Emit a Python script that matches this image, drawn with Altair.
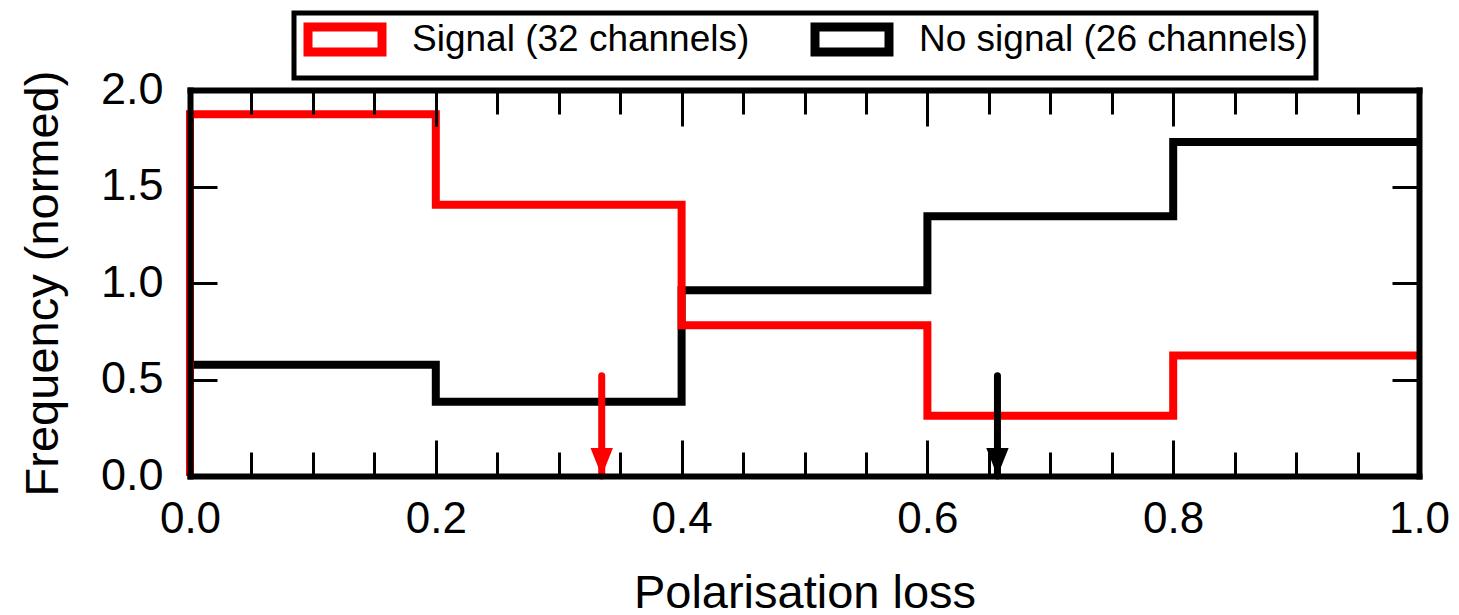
import altair as alt
import pandas as pd

# ---- data ----
bin_edges = [0.0, 0.2, 0.4, 0.6, 0.8, 1.0]
signal_heights = [1.875, 1.406, 0.781, 0.312, 0.625]
nosignal_heights = [0.577, 0.385, 0.962, 1.346, 1.731]
series_names = ["Signal (32 channels)", "No signal (26 channels)"]
series_colors = ["#ff0000", "#000000"]

arrow_x = [0.335, 0.657]
arrow_top = [0.52, 0.52]
arrow_tip = [0.0, 0.0]
arrow_colors = ["#ff0000", "#000000"]

x_major = [0.0, 0.2, 0.4, 0.6, 0.8, 1.0]
x_minor = [0.0, 0.05, 0.1, 0.15, 0.2, 0.25, 0.3, 0.35, 0.4, 0.45, 0.5,
           0.55, 0.6, 0.65, 0.7, 0.75, 0.8, 0.85, 0.9, 0.95, 1.0]
y_major = [0.0, 0.5, 1.0, 1.5, 2.0]

W, H = 1229, 386
FONT = "Liberation Sans"


def outline(name, heights):
    rows = [(bin_edges[0], 0.0)]
    for i, h in enumerate(heights):
        rows.append((bin_edges[i], h))
        rows.append((bin_edges[i + 1], h))
    return pd.DataFrame({"x": [r[0] for r in rows], "y": [r[1] for r in rows],
                         "idx": list(range(len(rows))), "series": name})


df_sig = outline(series_names[0], signal_heights)
df_nos = outline(series_names[1], nosignal_heights)
df_arrow = pd.DataFrame({"x": arrow_x, "top": arrow_top, "tip": arrow_tip, "col": arrow_colors})

xs = alt.Scale(domain=[0, 1], nice=False, zero=False)
ys = alt.Scale(domain=[0, 2], nice=False, zero=False)

x_tick_size = {"condition": {"test": "abs(datum.value*5 - round(datum.value*5)) < 0.001", "value": 36}, "value": 24}

ax_x_main = alt.Axis(values=x_major, format=".1f", title="Polarisation loss", ticks=False, tickSize=0,
                     domain=True, domainColor="black", domainWidth=6, domainCap="square",
                     labelFont=FONT, labelFontSize=44, labelColor="black", labelPadding=21,
                     labelFlush=False, labelOverlap=False, titleFont=FONT, titleFontSize=47,
                     titleFontWeight="normal", titleColor="black", titlePadding=29, grid=False, zindex=1)
ax_x_in_bottom = alt.Axis(orient="top", offset=-H, values=x_minor, labels=False, domain=False,
                          ticks=True, tickSize=x_tick_size, tickColor="black", tickWidth=3,
                          title=None, grid=False, zindex=1)
ax_x_top = alt.Axis(orient="bottom", offset=-H, values=x_minor, labels=False, domain=True,
                    domainColor="black", domainWidth=6, domainCap="square",
                    ticks=True, tickSize=x_tick_size, tickColor="black", tickWidth=3,
                    title=None, grid=False, zindex=1)

ax_y_main = alt.Axis(values=y_major, format=".1f", title="Frequency (normed)", ticks=False, tickSize=0,
                     domain=True, domainColor="black", domainWidth=6, domainCap="square",
                     labelFont=FONT, labelFontSize=45, labelColor="black", labelPadding=27,
                     labelOffset=-1, labelFlush=False, labelOverlap=False, titleFont=FONT,
                     titleFontSize=47, titleFontWeight="normal", titleColor="black", titlePadding=33,
                     grid=False, zindex=1)
ax_y_in_left = alt.Axis(orient="right", offset=-W, values=y_major, labels=False, domain=False,
                        ticks=True, tickSize=27, tickColor="black", tickWidth=3,
                        title=None, grid=False, zindex=1)
ax_y_right = alt.Axis(orient="left", offset=-W, values=y_major, labels=False, domain=True,
                      domainColor="black", domainWidth=6, domainCap="square",
                      ticks=True, tickSize=27, tickColor="black", tickWidth=3,
                      title=None, grid=False, zindex=1)

legend = alt.Legend(title=None, orient="none", legendX=104, legendY=-77, direction="horizontal",
                    symbolType="M-1,-1L4.92,-1L4.92,1L-1,1Z", symbolSize=625, symbolStrokeWidth=9,
                    symbolFillColor="white", labelFont=FONT, labelFontSize=37, labelColor="black",
                    labelOffset=73, labelLimit=1000, columnPadding=47, padding=8,
                    strokeColor="black", fillColor="white")

color = alt.Color("series:N", scale=alt.Scale(domain=series_names, range=series_colors), legend=legend)

line_nos = alt.Chart(df_nos).mark_line(strokeWidth=8, strokeJoin="miter", strokeCap="butt").encode(
    x=alt.X("x:Q", scale=xs, axis=ax_x_main),
    y=alt.Y("y:Q", scale=ys, axis=ax_y_main),
    order="idx:Q",
    color=color,
)
line_sig = alt.Chart(df_sig).mark_line(strokeWidth=8, strokeJoin="miter", strokeCap="butt").encode(
    x=alt.X("x:Q", scale=xs, axis=ax_x_in_bottom),
    y=alt.Y("y:Q", scale=ys, axis=ax_y_in_left),
    order="idx:Q",
    color=color,
)
shafts = alt.Chart(df_arrow).mark_rule(strokeWidth=7, strokeCap="round").encode(
    x=alt.X("x:Q", scale=xs, axis=ax_x_top),
    y=alt.Y("top:Q", scale=ys, axis=ax_y_right),
    y2="tip:Q",
    color=alt.Color("col:N", scale=None),
)
heads = alt.Chart(df_arrow).mark_point(shape="M-0.8,-2L0.8,-2L0,0Z", size=784, filled=True, opacity=1,
                                       strokeWidth=0).encode(
    x=alt.X("x:Q", scale=xs, axis=None),
    y=alt.Y("tip:Q", scale=ys, axis=None),
    color=alt.Color("col:N", scale=None),
)

chart = alt.layer(line_nos, line_sig, shafts, heads).resolve_axis(x="independent", y="independent").properties(
    width=W, height=H,
    padding={"left": 190, "top": 90, "right": 40, "bottom": 139},
    autosize=alt.AutoSizeParams(type="none"),
    background="white",
).configure(font=FONT).configure_view(stroke=None).configure_legend(strokeWidth=5, cornerRadius=0)

chart.save("out.html", embed_options={"renderer": "svg", "actions": False})
